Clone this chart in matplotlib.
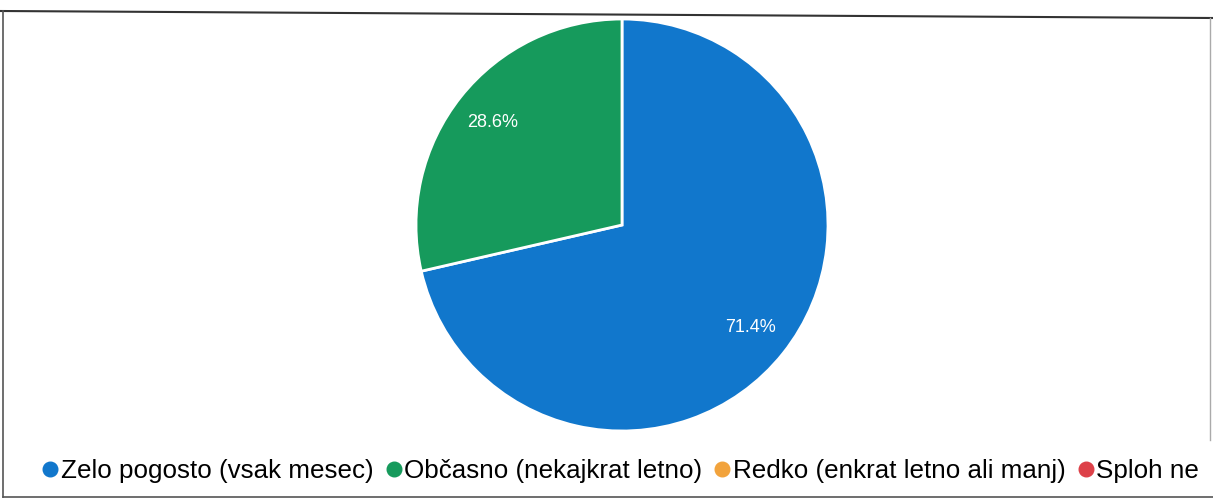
import matplotlib.pyplot as plt
from matplotlib.lines import Line2D

plt.rcParams['font.family'] = ['Liberation Sans', 'DejaVu Sans']

# ================= data =================
labels = ['Zelo pogosto (vsak mesec)', 'Občasno (nekajkrat letno)',
          'Redko (enkrat letno ali manj)', 'Sploh ne']
shares = [71.4, 28.6, 0.0, 0.0]
colors = ['#1177cc', '#169a5c', '#f2a33c', '#dd4149']

W, H = 1213, 499
fig = plt.figure(figsize=(W / 100, H / 100), dpi=100)

# pie axes: centre ~(622, 225) px, radius ~206 px
cx, cy, r = 622, 225, 206
ax = fig.add_axes([(cx - r) / W, (H - cy - r) / H, 2 * r / W, 2 * r / H])
shown = [(s, c) for s, c in zip(shares, colors) if s > 0]
wedges, texts, autotexts = ax.pie(
    [s for s, _ in shown], colors=[c for _, c in shown],
    startangle=90, counterclock=False, autopct='%.1f%%', pctdistance=0.8,
    wedgeprops=dict(edgecolor='white', linewidth=2),
    textprops=dict(color='white', fontsize=13))
ax.set_xlim(-1, 1)
ax.set_ylim(-1, 1)
ax.set_aspect('equal')

# legend along the bottom (cut off by the page edge in the scan)
handles = [Line2D([], [], marker='o', linestyle='', markersize=10.5,
                  markerfacecolor=c, markeredgecolor=c) for c in colors]
fig.legend(handles, labels, loc='center left', bbox_to_anchor=(0.033, (H - 471) / H),
           ncol=4, frameon=False, fontsize=18.7, handletextpad=0.0,
           columnspacing=0.38, handlelength=0.8, borderpad=0, borderaxespad=0)

# scanned page frame
fig.add_artist(Line2D([0.0, 1.0], [1 - 11 / H, 1 - 18 / H], color='#333333', lw=1.5))
fig.add_artist(Line2D([3 / W, 3 / W], [1 - 11 / H, 1 - 497 / H], color='#555555', lw=1.2))
fig.add_artist(Line2D([3 / W, 1.0], [1 - 497 / H, 1 - 497 / H], color='#555555', lw=1.2))
fig.add_artist(Line2D([1210 / W, 1210 / W], [1 - 18 / H, 1 - 440 / H], color='#aaaaaa', lw=1.0))

fig.savefig('out.png', dpi=100)
